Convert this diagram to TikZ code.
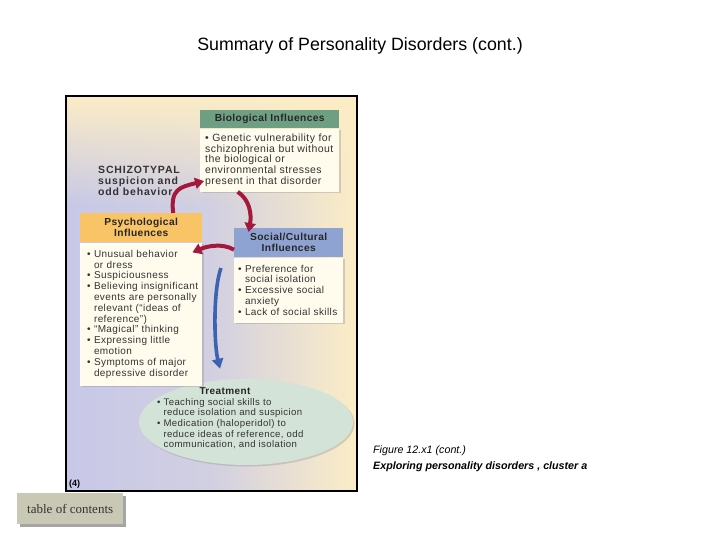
\documentclass[tikz,border=0pt]{standalone}
\usepackage{fontspec}
\setmainfont{Liberation Sans}
\newfontfamily\boxfont[LetterSpace=4]{Liberation Sans}
\newfontfamily\capsfont[LetterSpace=8]{Liberation Sans}
\newfontfamily\tocfont{Liberation Serif}
\usepackage{tikz}
\usetikzlibrary{positioning, arrows.meta, shapes.geometric, shadows, fadings}

\newcommand{\bulitem}[1]{\mbox{\textbullet\ #1}}
\newcommand{\bulcont}[1]{\mbox{\phantom{\textbullet\ }#1}}

\begin{document}
\begin{tikzpicture}[
    x=1pt, y=-1pt,
]

% ── Colors ──
\definecolor{lavender}{HTML}{C7C8E8}
\definecolor{creamy}{HTML}{FCEDC6}
\definecolor{biogreen}{HTML}{6F9F83}
\definecolor{psyorange}{HTML}{F8C465}
\definecolor{socblue}{HTML}{8FA3D3}
\definecolor{bodyfill}{HTML}{FFFCEE}
\definecolor{treatfill}{HTML}{D4E3D7}
\definecolor{arrowred}{HTML}{A3183B}
\definecolor{arrowblue}{HTML}{3D63B0}
\definecolor{tocfill}{HTML}{C9C8B5}

\tikzset{
    headbox/.style={rectangle, font=\boxfont\fontsize{10.2}{11}\selectfont\bfseries,
        text=black!85, align=center, inner sep=0pt, anchor=north west},
    bodybox/.style={rectangle, fill=bodyfill, font=\boxfont\fontsize{10}{10.8}\selectfont,
        text=black!80, align=left, inner xsep=5pt, inner ysep=4pt},
    boxshadow/.style={drop shadow={opacity=0.3, shadow xshift=1.5pt, shadow yshift=-1.5pt}},
    redarrow/.style={-{Triangle[width=11pt, length=9pt]}, line width=4pt, arrowred},
    bluearrow/.style={-{Triangle[width=11pt, length=10pt]}, line width=3.6pt, arrowblue},
}

\fill[white] (0,0) rectangle (720,540);
\useasboundingbox (0,0) rectangle (720,540);

% ══════════════════════════════════════════════
% Title
% ══════════════════════════════════════════════
\node[font=\fontsize{17.8}{20}\selectfont] (title) at (360,46) {Summary of Personality Disorders (cont.)};

% ══════════════════════════════════════════════
% Frame with coloured background
% ══════════════════════════════════════════════
\node[rectangle, minimum width=291, minimum height=395, anchor=north west, inner sep=0pt,
    left color=lavender, right color=creamy, middle color=lavender!80!creamy] (frame) at (66,96) {};
\fill[creamy, path fading=south] (frame.north west) rectangle ([yshift=-110pt]frame.north east);
\draw[line width=2pt] (frame.north west) rectangle (frame.south east);

\node[font=\capsfont\fontsize{10.5}{10.8}\selectfont\bfseries, text=black!80, align=left,
    anchor=north west, inner sep=0pt] (schizo) at (98,166) {SCHIZOTYPAL\\suspicion and\\odd behavior};

% ══════════════════════════════════════════════
% Treatment (drawn first, boxes sit above it)
% ══════════════════════════════════════════════
\node[ellipse, fill=treatfill, minimum width=214, minimum height=86, inner sep=0pt, boxshadow] (treat) at (246,422) {};
\node[font=\boxfont\fontsize{10}{11}\selectfont\bfseries, text=black!85] (treathead) at (225,391) {Treatment};
\node[font=\boxfont\fontsize{9.6}{10.7}\selectfont, text=black!80, align=left, anchor=north west,
    inner sep=0pt] (treatbody) at (157,398)
    {\bulitem{Teaching social skills to}\\
     \bulcont{reduce isolation and suspicion}\\
     \bulitem{Medication (haloperidol) to}\\
     \bulcont{reduce ideas of reference, odd}\\
     \bulcont{communication, and isolation}};

% ══════════════════════════════════════════════
% Biological influences
% ══════════════════════════════════════════════
\node[headbox, fill=biogreen, minimum width=139, minimum height=18] (biohead) at (200,110) {Biological Influences};
\node[bodybox, boxshadow, minimum width=139, minimum height=63, text width=129,
    font=\boxfont\fontsize{10.5}{10.8}\selectfont, below=0pt of biohead] (biobody)
    {\bulitem{Genetic vulnerability for}\\
     schizophrenia but without\\
     the biological or\\
     environmental stresses\\
     present in that disorder};

% ══════════════════════════════════════════════
% Psychological influences
% ══════════════════════════════════════════════
\node[headbox, fill=psyorange, minimum width=122, minimum height=29] (psychhead) at (80,213) {Psychological\\Influences};
\node[bodybox, boxshadow, minimum width=122, minimum height=143, text width=108, inner xsep=7pt,
    below=0pt of psychhead] (psychbody)
    {\bulitem{Unusual behavior}\\
     \bulcont{or dress}\\
     \bulitem{Suspiciousness}\\
     \bulitem{Believing insignificant}\\
     \bulcont{events are personally}\\
     \bulcont{relevant (“ideas of}\\
     \bulcont{reference”)}\\
     \bulitem{“Magical” thinking}\\
     \bulitem{Expressing little}\\
     \bulcont{emotion}\\
     \bulitem{Symptoms of major}\\
     \bulcont{depressive disorder}};

% ══════════════════════════════════════════════
% Social/Cultural influences
% ══════════════════════════════════════════════
\node[headbox, fill=socblue, minimum width=109, minimum height=29] (socialhead) at (234,228) {Social/Cultural\\Influences};
\node[bodybox, boxshadow, minimum width=109, minimum height=65, text width=101, inner xsep=4pt,
    below=0pt of socialhead] (socialbody)
    {\bulitem{Preference for}\\
     \bulcont{social isolation}\\
     \bulitem{Excessive social}\\
     \bulcont{anxiety}\\
     \bulitem{Lack of social skills}};

% ══════════════════════════════════════════════
% Arrows
% ══════════════════════════════════════════════
\draw[redarrow] ([xshift=32pt]psychhead.north) .. controls +(-3,-24) and +(-24,6) .. ([xshift=4pt, yshift=-21pt]biobody.west);
\draw[redarrow] ([xshift=-32pt]biobody.south) .. controls +(12,8) and +(3,-18) .. ([xshift=-40pt, yshift=-4pt]socialhead.north);
\draw[redarrow] ([yshift=-7pt]socialhead.west) .. controls +(-12,-7) and +(14,-6) .. ([xshift=-10pt, yshift=-10pt]psychhead.south east);

\coordinate (bluestart) at (221,268);
\draw[bluearrow] (bluestart) .. controls +(-8,22) and +(-6,-25) .. ([xshift=-26pt, yshift=10pt]treat.north);

\node[font=\fontsize{9}{10}\selectfont\bfseries, anchor=base west, inner sep=0pt] (panelno) at (69,486) {(4)};

% ══════════════════════════════════════════════
% Caption and button
% ══════════════════════════════════════════════
\node[font=\fontsize{10.7}{12}\selectfont\itshape, anchor=base west, inner sep=0pt] (figno) at (373,453) {Figure 12.x1 (cont.)};
\node[font=\fontsize{10.7}{12}\selectfont\bfseries\itshape, anchor=base west, inner sep=0pt] (figtitle) at (373,469) {Exploring personality disorders , cluster a};

\node[rectangle, fill=tocfill, minimum width=106, minimum height=31, anchor=north west,
    font=\tocfont\fontsize{13}{14}\selectfont, text=black!80,
    drop shadow={opacity=0.7, shadow xshift=2.5pt, shadow yshift=-2.5pt}] (toc) at (17,493) {table of contents};

\end{tikzpicture}
\end{document}
